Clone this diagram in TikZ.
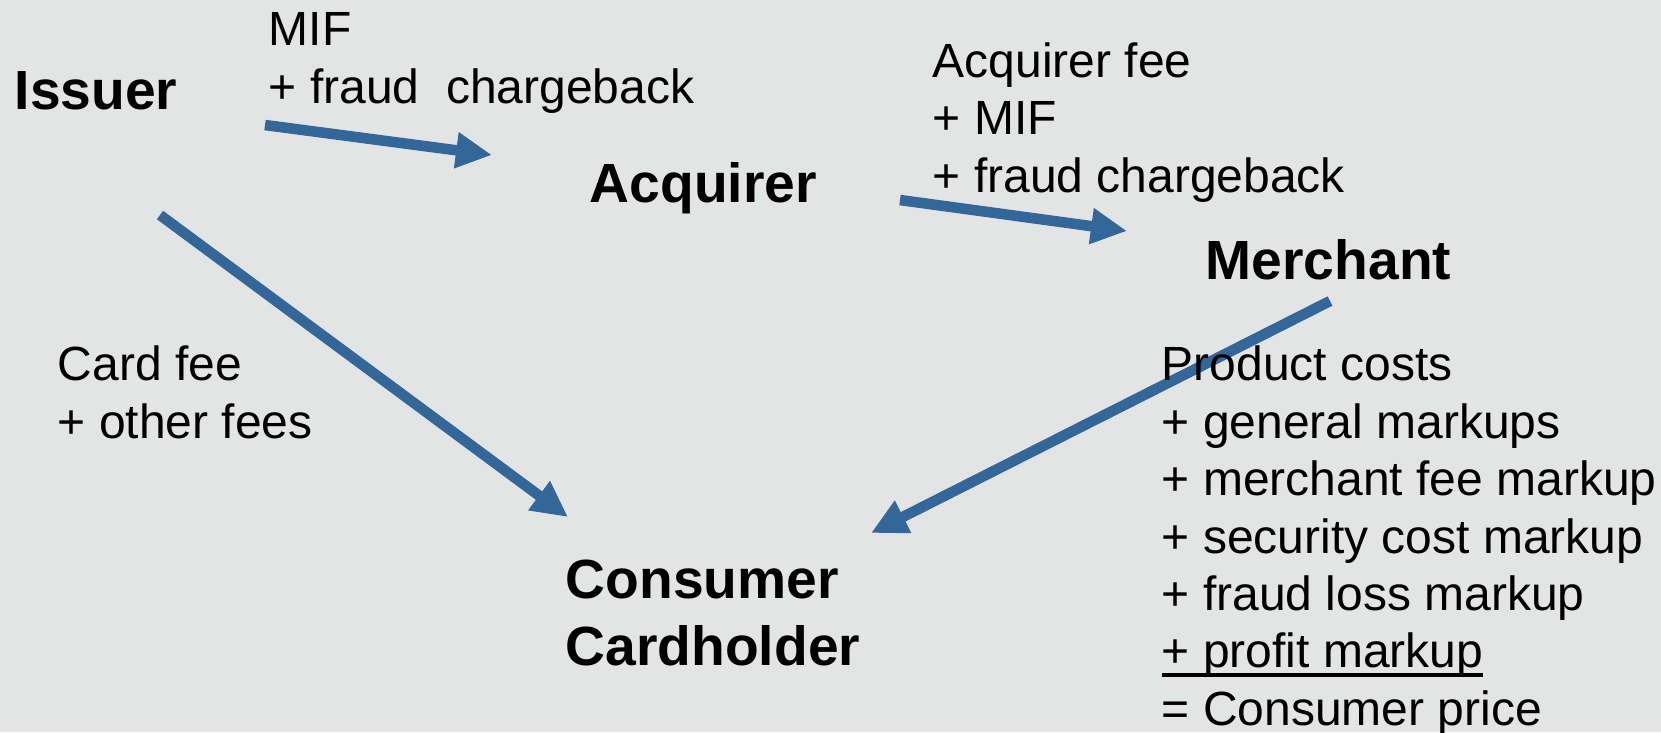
\documentclass[tikz,border=0pt]{standalone}
\usepackage{fontspec}
\setmainfont{Liberation Sans}
\usepackage{tikz}
\usetikzlibrary{arrows.meta}

\definecolor{paper}{HTML}{E3E5E4}
\definecolor{flowblue}{HTML}{33679A}

% underline that sits close under the baseline
\newcommand\sumline[1]{\setbox0\hbox{#1}\rlap{\copy0}\rule[-0.85mm]{\wd0}{0.3mm}}

\begin{document}
\begin{tikzpicture}[
  x = 0.01cm, y = -0.01cm,
  money/.style = {anchor=north west, inner sep=0pt, align=left,
                  font=\fontsize{13.65}{16.35}\selectfont},
  party/.style = {money, font=\bfseries\fontsize{15.7}{19.1}\selectfont},
  flow/.style  = {draw=flowblue, line width=3pt,
                  -{Triangle[length=3.6mm, width=3.4mm]}}
]
\fill[paper] (0,0) rectangle (1661,732);
\useasboundingbox (0,0) rectangle (1661,732);

% ───────── arrow ends ─────────
\coordinate (iss-out)  at (265,125);
\coordinate (acq-in)   at (492,155);
\coordinate (acq-out)  at (900,200);
\coordinate (mer-in)   at (1127,231);
\coordinate (iss-down) at (160,215);
\coordinate (con-in1)  at (568,517);
\coordinate (mer-down) at (1330,301);
\coordinate (con-in2)  at (871,533);

% ───────── arrows ──────────
\draw[flow] (iss-out)  -- (acq-in);
\draw[flow] (acq-out)  -- (mer-in);
\draw[flow] (iss-down) -- (con-in1);
\draw[flow] (mer-down) -- (con-in2);

% ───────── parties ─────────
\node[party] (issuer)   at (14,71)   {Issuer};
\node[party] (acquirer) at (589,162) {Acquirer};
\node[party] (merchant) at (1205,239) {Merchant};
\node[party] (holder)   at (565,559) {Consumer\\Cardholder};

% ───────── fees ────────────
\node[money] (mif)     at (268,12)  {MIF\\+ fraud\ \ chargeback};
\node[money] (acqfee)  at (932,42)  {Acquirer fee\\+ MIF\\+ fraud chargeback};
\node[money] (cardfee) at (57,345)  {Card fee\\+ other fees};
\node[money] (price)   at (1161,345) {Product costs\\+ general markups\\
  + merchant fee markup\\+ security cost markup\\+ fraud loss markup\\
  \sumline{+ profit markup}\\= Consumer price};
\end{tikzpicture}
\end{document}
